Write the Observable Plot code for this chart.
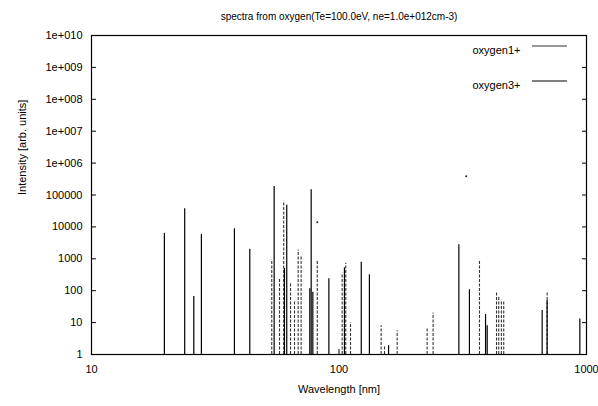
<!DOCTYPE html>
<html><head><meta charset="utf-8">
<script src="https://cdn.jsdelivr.net/npm/d3@7"></script>
<script src="https://cdn.jsdelivr.net/npm/@observablehq/plot@0.6"></script>
<style>body{margin:0;background:#fff}</style>
</head><body><div id="c"></div>
<script>
const titleText = "spectra from oxygen(Te=100.0eV, ne=1.0e+012cm-3)";
const xLabel = "Wavelength [nm]";
const yLabel = "Intensity [arb. units]";
const seriesNames = ["oxygen1+", "oxygen3+"];

const xTicks = [10, 100, 1000];
const xTickLabels = ["10", "100", "1000"];
const yTicks = [1, 10, 100, 1e3, 1e4, 1e5, 1e6, 1e7, 1e8, 1e9, 1e10];
const yTickLabels = ["1", "10", "100", "1000", "10000", "100000", "1e+006", "1e+007", "1e+008", "1e+009", "1e+010"];

// oxygen1+ lines (wavelength nm, intensity)
const o1Wl  = [53.5, 57.5, 59.8, 63.7, 66.1, 68.4, 70.3, 81.7, 103, 106.5, 111.3, 148, 152.7, 171.8, 227, 240, 369.5, 433, 442, 453, 463, 693.5];
const o1Int = [930, 250, 64000, 165, 44, 1900, 1180, 840, 355, 730, 10, 8, 1.8, 5.6, 6.4, 20, 840, 90, 65, 50, 44, 95];
// isolated points of oxygen1+
const o1DotWl  = [81.7, 326.6];
const o1DotInt = [14000, 390000];
// oxygen3+ lines
const o3Wl  = [19.7, 23.8, 25.9, 27.8, 37.8, 43.6, 54.7, 60.2, 61.5, 76.2, 77.2, 78.4, 91.0, 105.2, 123, 132.7, 158.6, 305, 336.5, 391, 397, 662, 693, 940];
const o3Int = [6300, 37000, 66, 5800, 8700, 2000, 185000, 500, 48000, 115, 145000, 90, 235, 520, 780, 315, 1.9, 2750, 107, 18, 8, 24, 49, 13];

const o1 = o1Wl.map((w, i) => ({wl: w, v: o1Int[i]}));
const o1d = o1DotWl.map((w, i) => ({wl: w, v: o1DotInt[i]}));
const o3 = o3Wl.map((w, i) => ({wl: w, v: o3Int[i]}));

const yFmt = d => yTickLabels[yTicks.findIndex(t => Math.abs(Math.log10(t) - Math.log10(d)) < 1e-6)];
const xFmt = d => xTickLabels[xTicks.findIndex(t => Math.abs(Math.log10(t) - Math.log10(d)) < 1e-6)];

const font = "'Liberation Sans', Arial, Helvetica, sans-serif";

const plot = Plot.plot({
  width: 598, height: 406,
  marginLeft: 91, marginRight: 12, marginTop: 35, marginBottom: 52,
  style: {fontFamily: font, fontSize: "11px", background: "#fff", color: "#000"},
  x: {type: "log", domain: [10, 1000]},
  y: {type: "log", domain: [1, 1e10]},
  marks: [
    Plot.ruleX(o1, {x: "wl", y1: 1, y2: "v", stroke: "#333", strokeWidth: 1.1, strokeDasharray: "3,1.5"}),
    Plot.ruleX(o3, {x: "wl", y1: 1, y2: "v", stroke: "#000", strokeWidth: 1.2}),
    Plot.dot(o1d, {x: "wl", y: "v", r: 1, fill: "#222", stroke: "none"}),
    Plot.axisY({ticks: yTicks, tickFormat: yFmt, tickSize: 0, tickPadding: 9, label: null}),
    Plot.axisY({ticks: yTicks, tickSize: -5, fill: "none", label: null}),
    Plot.axisY({anchor: "right", ticks: yTicks, tickSize: -5, fill: "none", label: null}),
    Plot.axisX({ticks: xTicks, tickFormat: xFmt, tickSize: 0, tickPadding: 11, label: null}),
    Plot.axisX({ticks: xTicks, tickSize: -5, fill: "none", label: null}),
    Plot.frame({stroke: "#000", strokeWidth: 1.2}),
    Plot.text([titleText], {frameAnchor: "top", dy: -23, fontSize: 10}),
    Plot.text([yLabel], {frameAnchor: "left", rotate: -90, dx: -69, fontSize: 11}),
    Plot.text([xLabel], {frameAnchor: "bottom", dy: 38, fontSize: 11}),
    Plot.text([seriesNames[0]], {frameAnchor: "top-right", dx: -66, dy: 11, textAnchor: "end", fontSize: 11}),
    Plot.text([seriesNames[1]], {frameAnchor: "top-right", dx: -66, dy: 46, textAnchor: "end", fontSize: 11})
  ]
});
document.getElementById("c").appendChild(plot);

// legend sample lines
const svg = d3.select(plot);
const right = 598 - 12;
[[46, "#333"], [81, "#000"]].forEach(([y, c]) => {
  svg.append("line").attr("x1", right - 54).attr("x2", right - 19)
    .attr("y1", y).attr("y2", y).attr("stroke", c).attr("stroke-width", 1.2);
});
</script>
</body></html>
